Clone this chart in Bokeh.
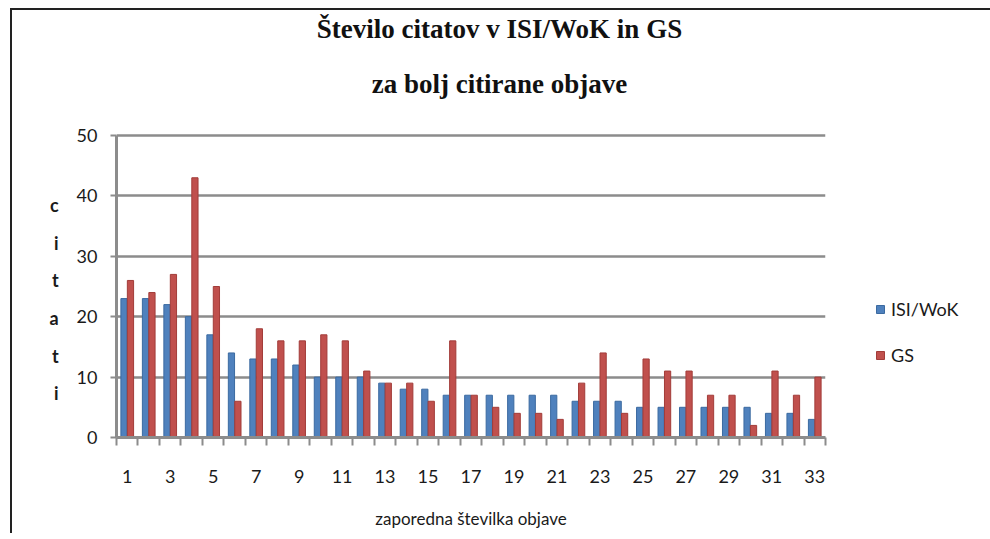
from bokeh.plotting import figure
from bokeh.models import ColumnDataSource, FixedTicker, Legend, LegendItem, Label, Range1d
from bokeh.transform import dodge
from bokeh.embed import file_html
from bokeh.resources import INLINE

pubs = list(range(1, 34))
isi_wok = [23, 23, 22, 20, 17, 14, 13, 13, 12, 10, 10, 10, 9, 8, 8, 7, 7,
           7, 7, 7, 7, 6, 6, 6, 5, 5, 5, 5, 5, 5, 4, 4, 3]
gs = [26, 24, 27, 43, 25, 6, 18, 16, 16, 17, 16, 11, 9, 9, 6, 16, 7,
      5, 4, 4, 3, 9, 14, 4, 13, 11, 11, 7, 7, 2, 11, 7, 10]
x_label_ticks = list(range(1, 34, 2))
y_ticks = [0, 10, 20, 30, 40, 50]
y_letters = ["c", "i", "t", "a", "t", "i"]
title_lines = ["Število citatov v ISI/WoK in GS", "za bolj citirane objave"]

SANS = "Lato"
SERIF = "Liberation Serif"
GRID = "#8c8c8c"
TXT = "#1a1a1a"
EDGE = "2px solid #222"

# layout (pixels)
FRAME_W, FRAME_H, PLOT_H = 709, 427, 302   # plot area 0..50 occupies the lower PLOT_H px
Y_TOP = 50 * FRAME_H / PLOT_H               # extra head-room above 50 holds the titles
px = 33 / FRAME_W
py = 50 / PLOT_H

src = ColumnDataSource(dict(pub=pubs, isi=isi_wok, gs=gs))

p = figure(frame_width=FRAME_W, frame_height=FRAME_H,
           x_range=Range1d(0.5, 33.5), y_range=Range1d(0, Y_TOP),
           output_backend="svg", toolbar_location=None,
           min_border_left=104, min_border_right=160, min_border_top=0, min_border_bottom=96)
p.styles = {"border-top": EDGE, "border-left": EDGE, "border-right": EDGE,
            "margin-left": "10px", "margin-top": "8px"}
p.outline_line_color = None

# two-line title, centred over the chart
for line, y_off in zip(title_lines, [18, 73]):
    p.add_layout(Label(x=0.5 + 383 * px, y=(FRAME_H - y_off) * py, text=line,
                       text_font=SERIF, text_font_size="27px", text_font_style="bold",
                       text_color="#111111", text_align="center", text_baseline="middle"))

r1 = p.vbar(x=dodge("pub", -0.15, range=p.x_range), top="isi", width=0.29, source=src,
            fill_color="#4f81bd", line_color="#3b6aa0", line_width=1)
r2 = p.vbar(x=dodge("pub", 0.15, range=p.x_range), top="gs", width=0.29, source=src,
            fill_color="#c0504d", line_color="#a23c39", line_width=1)

# axes
p.xgrid.visible = False
p.ygrid.ticker = FixedTicker(ticks=y_ticks[1:])
p.ygrid.grid_line_color = GRID
p.ygrid.grid_line_width = 2.5

p.yaxis.bounds = (0, 50)
p.yaxis.ticker = FixedTicker(ticks=y_ticks)
p.yaxis.axis_line_color = GRID
p.yaxis.axis_line_width = 3
p.yaxis.major_tick_line_color = GRID
p.yaxis.major_tick_line_width = 2
p.yaxis.major_tick_out = 6
p.yaxis.major_tick_in = 0
p.yaxis.minor_tick_line_color = None
p.yaxis.major_label_text_font = SANS
p.yaxis.major_label_text_font_size = "18px"
p.yaxis.major_label_text_color = TXT
p.yaxis.major_label_standoff = 13
p.yaxis.axis_label = "\n" * 4 + "\n".join(y_letters)
p.yaxis.axis_label_orientation = "horizontal"
p.yaxis.axis_label_text_font = SANS
p.yaxis.axis_label_text_font_size = "18px"
p.yaxis.axis_label_text_font_style = "bold"
p.yaxis.axis_label_text_color = TXT
p.yaxis.axis_label_text_line_height = 1.71
p.yaxis.axis_label_standoff = 15

p.xaxis.ticker = FixedTicker(ticks=x_label_ticks, minor_ticks=[i + 0.5 for i in range(0, 34)])
p.xaxis.axis_line_color = GRID
p.xaxis.axis_line_width = 3
p.xaxis.major_tick_line_color = None
p.xaxis.major_tick_out = 0
p.xaxis.major_tick_in = 0
p.xaxis.minor_tick_line_color = GRID
p.xaxis.minor_tick_line_width = 2
p.xaxis.minor_tick_out = 8
p.xaxis.minor_tick_in = 0
p.xaxis.major_label_text_font = SANS
p.xaxis.major_label_text_font_size = "18px"
p.xaxis.major_label_text_color = TXT
p.xaxis.major_label_standoff = 24
p.xaxis.axis_label = "zaporedna številka objave"
p.xaxis.axis_label_text_font = SANS
p.xaxis.axis_label_text_font_size = "17px"
p.xaxis.axis_label_text_font_style = "normal"
p.xaxis.axis_label_text_color = TXT
p.xaxis.axis_label_standoff = 22

legend = Legend(items=[LegendItem(label="ISI/WoK", renderers=[r1]),
                       LegendItem(label="GS", renderers=[r2])],
                location=(50, 71), border_line_color=None, background_fill_alpha=0,
                label_text_font=SANS, label_text_font_size="18px", label_text_color=TXT,
                glyph_width=10, glyph_height=10, spacing=24, label_standoff=6)
p.add_layout(legend, "right")

open("out.html", "w").write(file_html(p, INLINE))
